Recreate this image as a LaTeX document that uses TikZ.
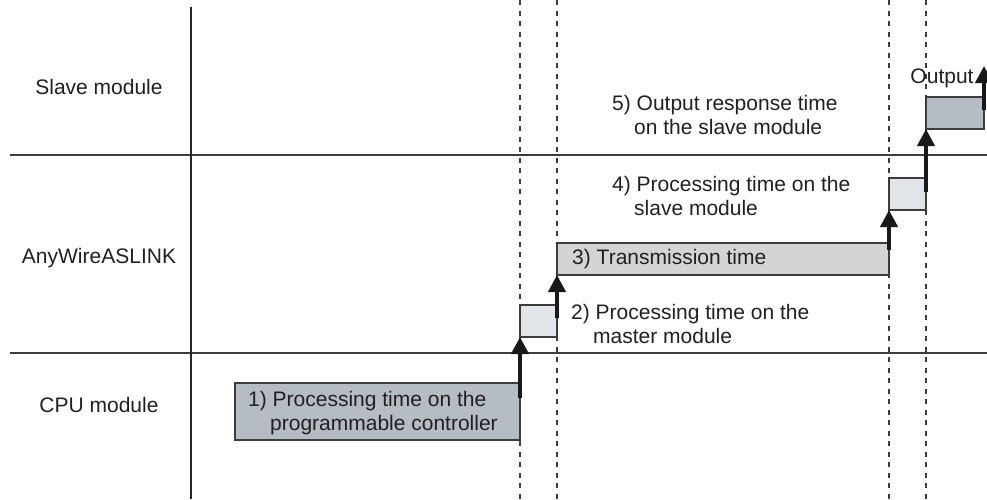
\documentclass[tikz,border=0pt]{standalone}
\usepackage{fontspec}
\setmainfont{Liberation Sans}
\usetikzlibrary{arrows.meta}
\definecolor{boxdark}{HTML}{B5BCC3}
\definecolor{boxlight}{HTML}{E1E4E9}
\definecolor{boxgray}{HTML}{D3D4D6}
\definecolor{linegray}{HTML}{3C3C3C}
\definecolor{txt}{HTML}{231F20}
\begin{document}
\begin{tikzpicture}
        [x=1pt, y=-1pt,
        lbl/.style={font=\fontsize{21}{24}\selectfont, text=txt, align=left, inner sep=0pt},
        box/.style={draw=linegray, line width=1.3pt, anchor=north west, inner sep=0pt, outer sep=0pt, minimum height=32pt},
        rule/.style={draw=linegray, line width=1.3pt},
        tick/.style={draw=linegray, line width=1.3pt, dash pattern=on 5pt off 5.5pt},
        arr/.style={line width=4pt, black!90, -{Triangle[width=17pt, length=17pt]}}]
        \useasboundingbox (0,0) rectangle (987,499);

        % rows
        \draw[rule] (10,155) -- (987,155);
        \draw[rule] (10,353) -- (987,353);
        \draw[line width=1.5pt, black!85] (191,7) -- (191,499);
        \node[lbl] (slave) at (99,87) {Slave module};
        \node[lbl] (link) at (99,258) {AnyWireASLINK};
        \node[lbl] (cpu) at (99,405) {CPU module};

        \foreach \x in {520,557,889,926}
            \draw[tick] (\x,0) -- (\x,499);

        % time boxes
        \node[box, fill=boxdark, minimum width=285pt, minimum height=57pt] (t1) at (235,383) {};
        \node[box, fill=boxlight, minimum width=37pt] (t2) at (520,305) {};
        \node[box, fill=boxgray, minimum width=332pt] (t3) at (557,243) {};
        \node[box, fill=boxlight, minimum width=37pt] (t4) at (889,178) {};
        \node[box, fill=boxdark, minimum width=58pt] (t5) at (926,97) {};
        \coordinate (tip) at (984,66);

        \node[lbl, anchor=west] (l1) at (248,413) {1) Processing time on the\\\hspace*{22pt}programmable controller};
        \node[lbl, anchor=west] (l2) at (571,323.5) {2) Processing time on the\\\hspace*{22pt}master module};
        \node[lbl, anchor=west] (l3) at (572,259) {3) Transmission time};
        \node[lbl, anchor=west] (l4) at (612,196) {4) Processing time on the\\\hspace*{22pt}slave module};
        \node[lbl, anchor=west] (l5) at (612,115) {5) Output response time\\\hspace*{22pt}on the slave module};
        \node[lbl] (out) at (942,78) {Output};

        \draw[arr] ([yshift=-15pt]t1.north east) -- (t2.south west);
        \draw[arr] ([yshift=-13pt]t2.north east) -- (t3.south west);
        \draw[arr] ([yshift=-7pt]t3.north east) -- (t4.south west);
        \draw[arr] ([yshift=-14pt]t4.north east) -- (t5.south west);
        \draw[arr] ([yshift=-13pt]t5.north east) -- (tip);

    \end{tikzpicture}
\end{document}
